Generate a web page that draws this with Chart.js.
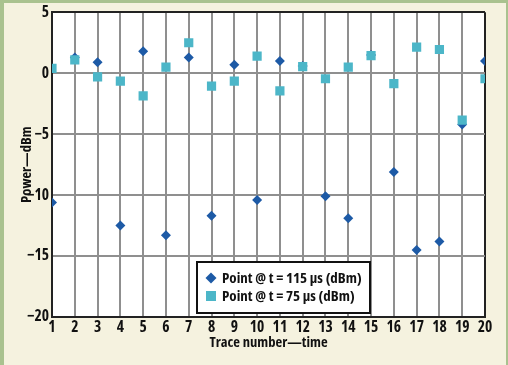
<!DOCTYPE html>
<html lang="en">
<head>
  <meta charset="UTF-8" />
  <title>Power vs trace number</title>
  <script src="https://cdn.jsdelivr.net/npm/chart.js"></script>
  <style>
    html, body { margin: 0; padding: 0; background: #f5f2df; }
    .marco { width: 508px; height: 365px; position: relative; }
  </style>
</head>
<body>
  <div class="marco">
    <canvas id="grafico" width="508" height="365"></canvas>
  </div>

  <script>
    // datos
    const trazas = [1, 2, 3, 4, 5, 6, 7, 8, 9, 10, 11, 12, 13, 14, 15, 16, 17, 18, 19, 20];
    const punto115 = [-10.6, 1.3, 0.9, -12.5, 1.8, -13.3, 1.3, -11.7, 0.7, -10.4,
                      1.0, 0.6, -10.1, -11.9, 1.5, -8.1, -14.5, -13.8, -4.2, 1.0];
    const punto75 = [0.4, 1.1, -0.3, -0.65, -1.85, 0.5, 2.5, -1.05, -0.65, 1.4,
                     -1.45, 0.55, -0.45, 0.5, 1.45, -0.85, 2.15, 1.95, -3.85, -0.45];
    const ticksY = [5, 0, -5, -10, -15, -20];
    const etiquetas = ['Point @ t = 115 \u00b5s (dBm)', 'Point @ t = 75 \u00b5s (dBm)'];

    // Open Sans en ancho condensado se parece a la fuente original
    const fuente = '"Open Sans", sans-serif';
    const peso = 'bold condensed';
    const azul = '#1d5aa6';
    const cian = '#4cb6c8';

    const fondo = {
      id: 'fondo',
      beforeDraw(chart) {
        const c = chart.ctx;
        c.save();
        c.fillStyle = '#f5f2df';
        c.fillRect(0, 0, chart.width, chart.height);
        c.fillStyle = '#a9c28f';
        c.fillRect(0, 0, chart.width, 3);
        c.fillRect(0, 0, 4, chart.height);
        c.fillRect(chart.width - 2, 0, 2, chart.height);
        const a = chart.chartArea;
        c.fillStyle = '#ffffff';
        c.fillRect(a.left, a.top, a.right - a.left, a.bottom - a.top);
        c.restore();
      }
    };

    // leyenda dentro del area del grafico
    const leyenda = {
      id: 'leyenda',
      afterDraw(chart) {
        const c = chart.ctx;
        c.save();
        c.fillStyle = '#ffffff';
        c.fillRect(197, 262, 173, 51);
        c.strokeStyle = '#111';
        c.lineWidth = 2;
        c.strokeRect(197, 262, 173, 51);
        chart.data.datasets.forEach((ds, i) => {
          const y = 278 + i * 18;
          c.fillStyle = ds.backgroundColor;
          if (ds.pointStyle === 'rectRot') {
            c.beginPath();
            c.moveTo(211, y - 5.5);
            c.lineTo(216.5, y);
            c.lineTo(211, y + 5.5);
            c.lineTo(205.5, y);
            c.closePath();
            c.fill();
          } else {
            c.fillRect(206, y - 5, 10, 10);
          }
          c.fillStyle = '#111';
          c.font = peso + ' 15px ' + fuente;
          c.textBaseline = 'middle';
          c.fillText(ds.label, 222, y + 1);
        });
        c.restore();
      }
    };

    new Chart(document.getElementById('grafico'), {
      type: 'scatter',
      data: {
        datasets: [
          {
            label: etiquetas[0],
            data: trazas.map((t, i) => ({ x: t, y: punto115[i] })),
            pointStyle: 'rectRot',
            radius: 5,
            backgroundColor: azul,
            borderColor: azul,
            borderWidth: 0,
            order: 2
          },
          {
            label: etiquetas[1],
            data: trazas.map((t, i) => ({ x: t, y: punto75[i] })),
            pointStyle: 'rect',
            radius: 6.5,
            backgroundColor: cian,
            borderColor: cian,
            borderWidth: 0,
            order: 1
          }
        ]
      },
      options: {
        responsive: false,
        animation: false,
        layout: { padding: { left: 0, right: 23, top: 12, bottom: 0 } },
        plugins: {
          legend: { display: false },
          tooltip: { enabled: false }
        },
        scales: {
          x: {
            type: 'linear',
            min: 1,
            max: 20,
            afterFit: s => { s.height = 48; },
            afterBuildTicks: s => { s.ticks = trazas.map(v => ({ value: v })); },
            grid: {
              color: c => c.tick && c.tick.value === 20 ? '#222' : '#8f8f8f',
              lineWidth: 2,
              drawTicks: false
            },
            border: { color: '#222', width: 2 },
            ticks: {
              padding: 1,
              color: '#111',
              font: { family: fuente, size: 15.5, weight: peso },
              maxRotation: 0,
              autoSkip: false
            },
            title: {
              display: true,
              text: 'Trace number\u2014time',
              color: '#111',
              font: { family: fuente, size: 14.6, weight: peso },
              padding: { top: 0, bottom: 13 }
            }
          },
          y: {
            min: -20,
            max: 5,
            afterFit: s => { s.width = 52; },
            afterBuildTicks: s => { s.ticks = ticksY.map(v => ({ value: v })); },
            grid: {
              color: c => c.tick && c.tick.value === 5 ? '#222' : '#8f8f8f',
              lineWidth: 2,
              drawTicks: false
            },
            border: { color: '#222', width: 2 },
            ticks: {
              padding: 3,
              color: '#111',
              font: { family: fuente, size: 15.5, weight: peso },
              callback: v => String(v).replace('-', '\u2212')
            },
            title: {
              display: true,
              text: 'Power\u2014dBm',
              color: '#111',
              font: { family: fuente, size: 14.6, weight: peso },
              padding: { top: 18, bottom: 0 }
            }
          }
        }
      },
      plugins: [fondo, leyenda]
    });
  </script>
</body>
</html>
